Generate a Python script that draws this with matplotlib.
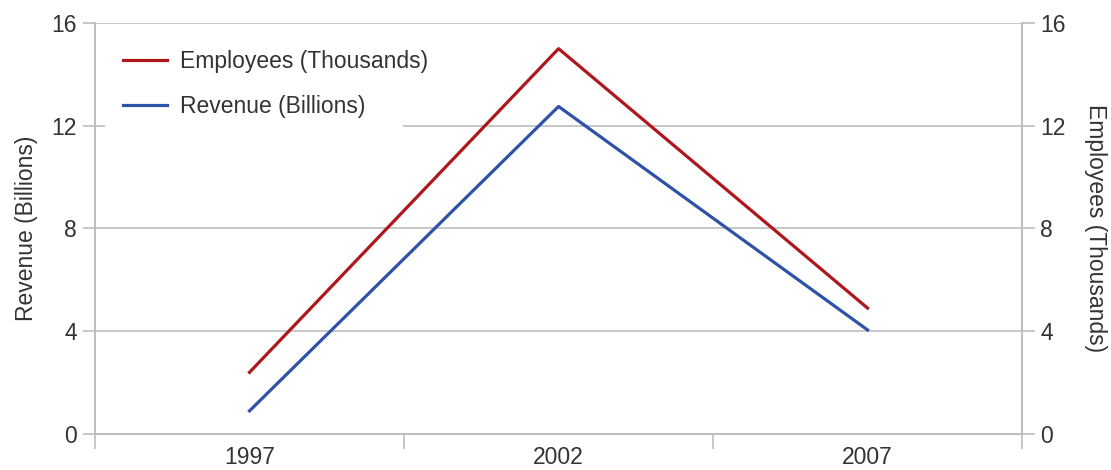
import matplotlib
matplotlib.use("Agg")
from matplotlib import pyplot as plt
from matplotlib.patches import Rectangle
from matplotlib.ticker import FixedLocator

years = ["1997", "2002", "2007"]
employees = [2.4, 15.0, 4.9]   # thousands, right axis
revenue = [0.9, 12.75, 4.05]   # billions, left axis
y_ticks = [0, 4, 8, 12, 16]

RED = "#b0171c"
BLUE = "#2d52a8"
GRID = "#bdbdbd"
TEXT = "#333333"
FS = 16.5

plt.rcParams["font.family"] = ["Liberation Sans", "DejaVu Sans"]

fig = plt.figure(figsize=(11.11, 4.7), dpi=100)
ax = fig.add_axes([0.0855, 0.0766, 0.8345, 0.8745])
ax2 = ax.twinx()

x = list(range(len(years)))
ax.plot(x, revenue, color=BLUE, lw=2.3, label="Revenue (Billions)", zorder=3)
ax2.plot(x, employees, color=RED, lw=2.3, label="Employees (Thousands)", zorder=3)

for a in (ax, ax2):
    a.set_ylim(0, 16)
    a.set_yticks(y_ticks)
    a.set_xlim(-0.5, len(years) - 0.5)
    for s in a.spines.values():
        s.set_color(GRID)
        s.set_linewidth(1.2)
    a.spines["top"].set_visible(False)
    a.tick_params(axis="y", colors=GRID, labelcolor=TEXT, labelsize=FS, length=9, width=1.2, pad=4)

ax.yaxis.grid(True, color=GRID, lw=1.2, zorder=0)
ax.set_axisbelow(True)

# white patch behind the legend hides part of the 12 gridline, like the original
ax.add_patch(Rectangle((0.011, 0.72), 0.321, 0.255, transform=ax.transAxes,
                       facecolor="white", edgecolor="none", zorder=1))

ax.set_xticks(x)
ax.set_xticklabels(years, fontsize=FS, color=TEXT)
ax.tick_params(axis="x", which="major", length=0, pad=9)
ax.xaxis.set_minor_locator(FixedLocator([-0.5, 0.5, 1.5, 2.5]))
ax.tick_params(axis="x", which="minor", length=11, width=1.2, color=GRID)

ax.set_ylabel("Revenue (Billions)", fontsize=FS, color=TEXT, labelpad=10)
ax2.set_ylabel("Employees (Thousands)", fontsize=FS, color=TEXT, rotation=-90, labelpad=30)

h1, l1 = ax2.get_legend_handles_labels()
h2, l2 = ax.get_legend_handles_labels()
leg = ax2.legend(h1 + h2, l1 + l2, loc="upper left", bbox_to_anchor=(0.008, 0.985),
                 frameon=False, fontsize=FS, handlelength=1.9, handletextpad=0.6,
                 labelspacing=0.95, borderpad=0.4)
for t in leg.get_texts():
    t.set_color(TEXT)

fig.savefig("out.png", dpi=100)
